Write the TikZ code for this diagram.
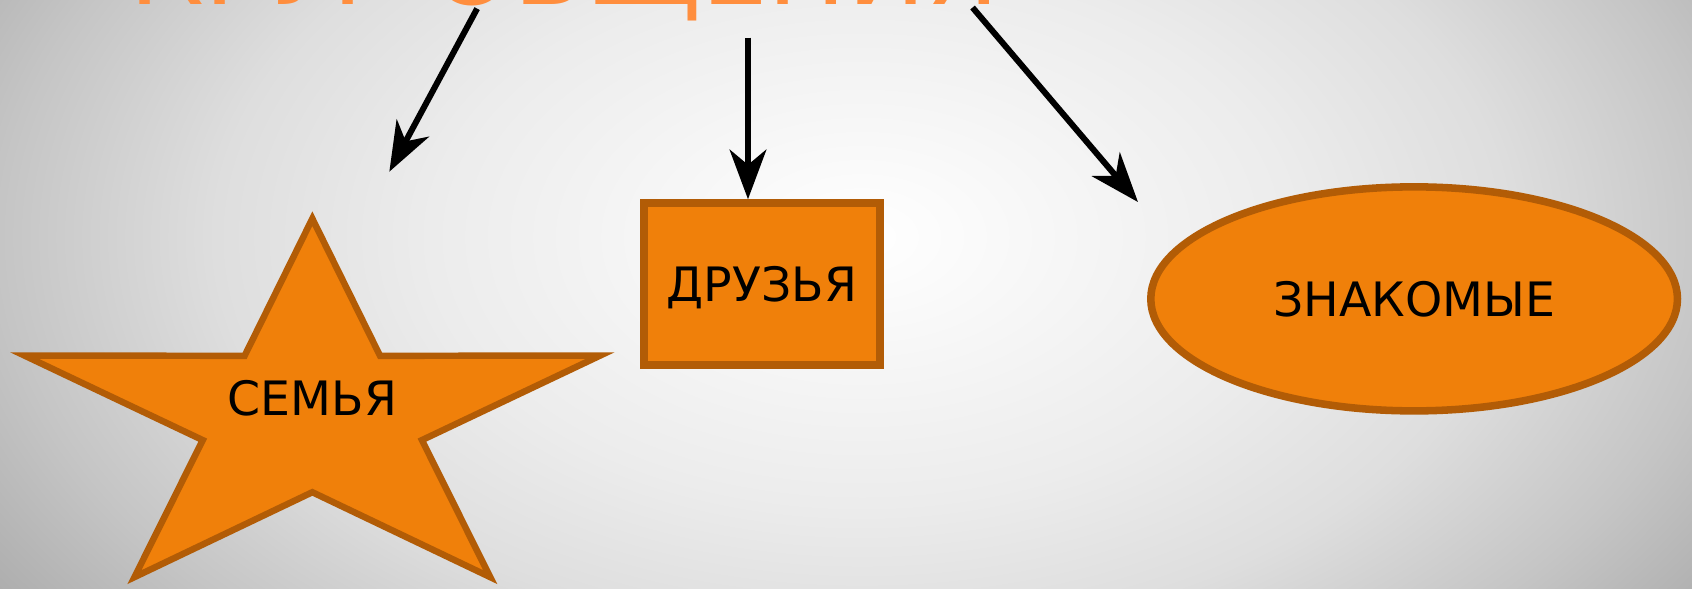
\documentclass[tikz,border=0pt]{standalone}
\usepackage{fontspec}
\setmainfont{DejaVu Sans}
\usetikzlibrary{arrows.meta,shapes.geometric}
\definecolor{fillor}{RGB}{240,128,10}
\definecolor{bordor}{RGB}{178,92,6}
\definecolor{titleor}{RGB}{255,142,62}
\definecolor{bgout}{RGB}{168,168,168}
\definecolor{bgA}{RGB}{236,236,236}
\definecolor{bgB}{RGB}{222,222,222}
\definecolor{bgC}{RGB}{197,197,197}
\pgfdeclareradialshading{bgshade}{\pgfpoint{0bp}{0bp}}{color(0bp)=(white); color(10bp)=(bgA); color(15bp)=(bgB); color(20bp)=(bgC); color(25bp)=(bgout); color(50bp)=(bgout)}
\begin{document}
\begin{tikzpicture}[x=1pt,y=-1pt,
  conn/.style={line width=5.6pt, -{Stealth[length=46pt,width=34pt,inset=14pt]}},
  lbl/.style={font=\fontsize{44}{50}\selectfont, text=black, text height=32pt, text depth=0pt},
  shapebox/.style={draw=bordor, fill=fillor}]
\useasboundingbox (0,0) rectangle (1571,546);
\clip (0,0) rectangle (1571,546);
\fill[bgout] (0,0) rectangle (1571,546);
\shade[shading=bgshade] (800,220) ellipse [x radius=1000, y radius=620];
\node[anchor=base west, inner sep=0, text=titleor, font=\fontsize{98}{110}\selectfont] (title) at (120,4) {КРУГ ОБЩЕНИЯ};
% star
\draw[shapebox, line width=6pt]
  ({290+281*cos(90)},{387-184*sin(90)})
  -- ({290+107*cos(126)},{387-70*sin(126)})
  -- ({290+281*cos(162)},{387-184*sin(162)})
  -- ({290+107*cos(198)},{387-70*sin(198)})
  -- ({290+281*cos(234)},{387-184*sin(234)})
  -- ({290+107*cos(270)},{387-70*sin(270)})
  -- ({290+281*cos(306)},{387-184*sin(306)})
  -- ({290+107*cos(342)},{387-70*sin(342)})
  -- ({290+281*cos(18)},{387-184*sin(18)})
  -- ({290+107*cos(54)},{387-70*sin(54)})
  -- cycle;
\node[lbl, inner sep=0] (family) at (290,369.5) {СЕМЬЯ};
\node[shapebox, line width=7.5pt, minimum width=219.5pt, minimum height=150.5pt, inner sep=0, lbl] (friends) at (707.5,264) {ДРУЗЬЯ};
\node[shapebox, ellipse, line width=7pt, minimum width=489pt, minimum height=208pt, inner sep=0, lbl] (acq) at (1313,277.5) {ЗНАКОМЫЕ};
\coordinate (s1) at (443,8);
\coordinate (e1) at (361.5,159.4);
\coordinate (s2) at (694.5,35);
\coordinate (s3) at (903,7);
\coordinate (e3) at (1056.6,187.6);
\draw[conn] (s1) -- (e1);
\draw[conn] (s2) -- (s2 |- friends.north);
\draw[conn] (s3) -- (e3);
\end{tikzpicture}
\end{document}
